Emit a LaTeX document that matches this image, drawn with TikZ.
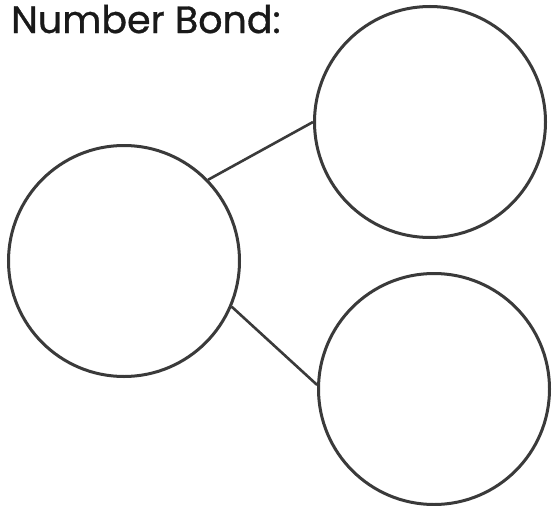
\documentclass[tikz,border=0pt]{standalone}
\usepackage{fontspec}
\setmainfont{Poppins}[FakeBold=0.8]
\definecolor{ink}{HTML}{3A3A3A}
\begin{document}
\begin{tikzpicture}[x=1pt,y=-1pt,
  bond/.style={circle,draw=ink,line width=3pt,minimum size=231pt,inner sep=0pt},
  link/.style={draw=ink,line width=2.6pt}]
\useasboundingbox[fill=white] (0,0) rectangle (552,506);
\node[anchor=base west,inner sep=0pt,text=black!90,font=\fontsize{38}{42}\selectfont] (title) at (11,33) {Number Bond:};
\node[bond] (whole) at (124,261) {};
\node[bond] (top) at (430,122) {};
\node[bond] (bot) at (434,389) {};
\draw[link] (whole.44.6) -- (top.180.5);
\draw[link] (whole.-23) -- (bot.178.5);
\end{tikzpicture}
\end{document}
